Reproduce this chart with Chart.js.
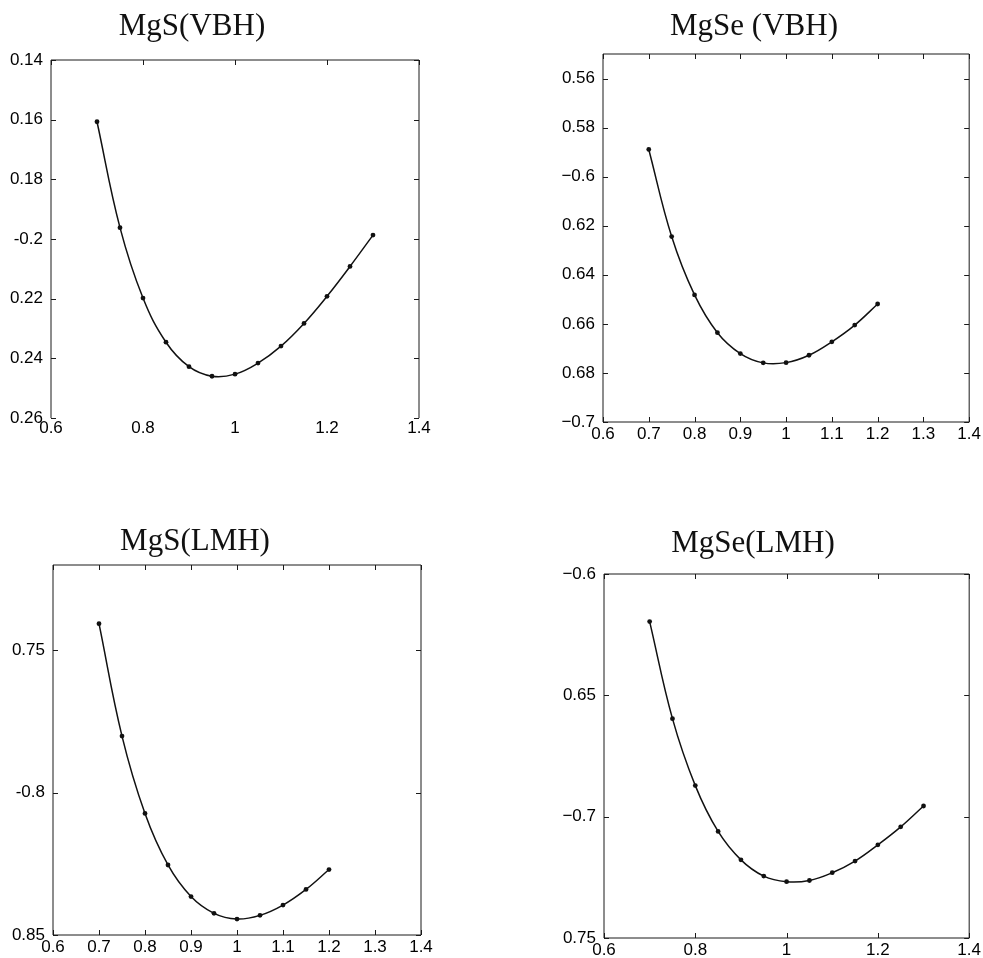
<!DOCTYPE html>
<html>
<head>
<meta charset="utf-8">
<script src="https://cdn.jsdelivr.net/npm/chart.js@4.4.1/dist/chart.umd.min.js"></script>
<style>
  html, body { margin: 0; padding: 0; background: #fff; overflow: hidden; }
  #wrap { position: relative; width: 983px; height: 958px; }
  #wrap canvas { position: absolute; left: 0; top: 0; }
</style>
</head>
<body>
<div id="wrap">
  <canvas id="mgsVbhChart" width="983" height="958"></canvas>
  <canvas id="mgseVbhChart" width="983" height="958"></canvas>
  <canvas id="mgsLmhChart" width="983" height="958"></canvas>
  <canvas id="mgseLmhChart" width="983" height="958"></canvas>
</div>
<script>
// x values (lattice ratio)
const xLong = [0.7, 0.75, 0.8, 0.85, 0.9, 0.95, 1.0, 1.05, 1.1, 1.15, 1.2, 1.25, 1.3];
const xShort = [0.7, 0.75, 0.8, 0.85, 0.9, 0.95, 1.0, 1.05, 1.1, 1.15, 1.2];

// energy values
const mgsVbh = [-0.1607, -0.1962, -0.2198, -0.2346, -0.2428, -0.2460, -0.2453, -0.2416, -0.2359, -0.2283, -0.2192, -0.2092, -0.1987];
const mgseVbh = [-0.5889, -0.6244, -0.6482, -0.6636, -0.6721, -0.6759, -0.6758, -0.6728, -0.6673, -0.6605, -0.6519];
const mgsLmh = [-0.7406, -0.7801, -0.8073, -0.8254, -0.8365, -0.8424, -0.8444, -0.8431, -0.8395, -0.8340, -0.8270];
const mgseLmh = [-0.6196, -0.6596, -0.6872, -0.7061, -0.7178, -0.7245, -0.7268, -0.7263, -0.7231, -0.7183, -0.7116, -0.7042, -0.6956];

// tick values and labels (as printed, minus signs partly lost in the scan)
const xTicksWide = [0.6, 0.8, 1.0, 1.2, 1.4];
const xLabelsWide = ['0.6', '0.8', '1', '1.2', '1.4'];
const xTicksFine = [0.6, 0.7, 0.8, 0.9, 1.0, 1.1, 1.2, 1.3, 1.4];
const xLabelsFine = ['0.6', '0.7', '0.8', '0.9', '1', '1.1', '1.2', '1.3', '1.4'];

const mgsVbhTicks = [-0.26, -0.24, -0.22, -0.2, -0.18, -0.16, -0.14];
const mgsVbhLabels = ['0.26', '0.24', '0.22', '-0.2', '0.18', '0.16', '0.14'];
const mgseVbhTicks = [-0.7, -0.68, -0.66, -0.64, -0.62, -0.6, -0.58, -0.56];
const mgseVbhLabels = ['\u22120.7', '0.68', '0.66', '0.64', '0.62', '\u22120.6', '0.58', '0.56'];
const mgsLmhTicks = [-0.85, -0.8, -0.75];
const mgsLmhLabels = ['0.85', '-0.8', '0.75'];
const mgseLmhTicks = [-0.75, -0.7, -0.65, -0.6];
const mgseLmhLabels = ['0.75', '\u22120.7', '0.65', '\u22120.6'];

// cornice, tacche interne e titolo
const framePlugin = {
  id: 'frame',
  afterDraw(chart, args, opts) {
    const { ctx, chartArea: a, scales } = chart;
    ctx.save();
    ctx.strokeStyle = '#1a1a1a';
    ctx.lineWidth = 1;
    ctx.beginPath();
    ctx.moveTo(a.left, a.bottom);
    ctx.lineTo(a.left, a.top);
    ctx.lineTo(a.right, a.top);
    ctx.lineTo(a.right, a.bottom);
    if (opts.bottom !== false) ctx.lineTo(a.left, a.bottom);
    ctx.stroke();

    ctx.beginPath();
    scales.x.ticks.forEach(t => {
      const px = Math.round(scales.x.getPixelForValue(t.value)) + 0.5;
      ctx.moveTo(px, a.top); ctx.lineTo(px, a.top + 5);
      if (opts.bottom !== false) { ctx.moveTo(px, a.bottom); ctx.lineTo(px, a.bottom - 5); }
    });
    scales.y.ticks.forEach(t => {
      const py = Math.round(scales.y.getPixelForValue(t.value)) + 0.5;
      ctx.moveTo(a.left, py); ctx.lineTo(a.left + 5, py);
      ctx.moveTo(a.right, py); ctx.lineTo(a.right - 5, py);
    });
    ctx.stroke();

    ctx.fillStyle = '#111';
    ctx.font = '31px "Liberation Serif", "Times New Roman", serif';
    ctx.textAlign = 'center';
    ctx.textBaseline = 'alphabetic';
    ctx.fillText(opts.title, opts.titleX, opts.titleY);
    ctx.restore();
  }
};

function makePanel(id, p) {
  const ctx = document.getElementById(id).getContext('2d');
  return new Chart(ctx, {
    type: 'scatter',
    data: {
      datasets: [{
        data: p.xs.map((x, i) => ({ x: x, y: p.ys[i] })),
        showLine: true,
        tension: 0.4,
        borderColor: '#111',
        borderWidth: 1.5,
        pointRadius: 2.4,
        pointBackgroundColor: '#111',
        pointBorderColor: '#111',
        pointBorderWidth: 0
      }]
    },
    options: {
      responsive: false,
      animation: false,
      events: [],
      layout: {
        padding: {
          left: p.box.l - 50,
          top: p.box.t,
          right: 983 - p.box.r,
          bottom: 958 - p.box.b - 20
        }
      },
      plugins: {
        legend: { display: false },
        tooltip: { enabled: false },
        frame: { title: p.title, titleX: p.titleX, titleY: p.titleY, bottom: p.bottomLine }
      },
      scales: {
        x: {
          type: 'linear',
          min: 0.6,
          max: 1.4,
          grid: { display: false, drawTicks: false },
          border: { display: false },
          afterBuildTicks: s => { s.ticks = p.xTicks.map(v => ({ value: v })); },
          afterFit: s => { s.height = 20; },
          ticks: {
            padding: p.xPad,
            color: '#000',
            font: { family: '"Liberation Sans", Arial, sans-serif', size: 17 },
            maxRotation: 0,
            autoSkip: false,
            callback: (v, i) => p.xLabels[i]
          }
        },
        y: {
          type: 'linear',
          min: p.yMin,
          max: p.yMax,
          grid: { display: false, drawTicks: false },
          border: { display: false },
          afterBuildTicks: s => { s.ticks = p.yTicks.map(v => ({ value: v })); },
          afterFit: s => { s.width = 50; },
          ticks: {
            padding: 8,
            color: '#000',
            font: { family: '"Liberation Sans", Arial, sans-serif', size: 17 },
            autoSkip: false,
            callback: (v, i) => p.yLabels[i]
          }
        }
      }
    },
    plugins: [framePlugin]
  });
}

makePanel('mgsVbhChart', {
  xs: xLong, ys: mgsVbh,
  box: { l: 51, t: 60, r: 419, b: 418 },
  yMin: -0.26, yMax: -0.14,
  xTicks: xTicksWide, xLabels: xLabelsWide, xPad: 0,
  yTicks: mgsVbhTicks, yLabels: mgsVbhLabels,
  title: 'MgS(VBH)', titleX: 192, titleY: 35, bottomLine: false
});

makePanel('mgseVbhChart', {
  xs: xShort, ys: mgseVbh,
  box: { l: 603, t: 54, r: 970, b: 422 },
  yMin: -0.7, yMax: -0.55,
  xTicks: xTicksFine, xLabels: xLabelsFine, xPad: 2,
  yTicks: mgseVbhTicks, yLabels: mgseVbhLabels,
  title: 'MgSe (VBH)', titleX: 754, titleY: 35
});

makePanel('mgsLmhChart', {
  xs: xShort, ys: mgsLmh,
  box: { l: 53, t: 565, r: 421, b: 935 },
  yMin: -0.85, yMax: -0.72,
  xTicks: xTicksFine, xLabels: xLabelsFine, xPad: 2,
  yTicks: mgsLmhTicks, yLabels: mgsLmhLabels,
  title: 'MgS(LMH)', titleX: 195, titleY: 550
});

makePanel('mgseLmhChart', {
  xs: xLong, ys: mgseLmh,
  box: { l: 604, t: 574, r: 971, b: 938 },
  yMin: -0.75, yMax: -0.6,
  xTicks: xTicksWide, xLabels: xLabelsWide, xPad: 2,
  yTicks: mgseLmhTicks, yLabels: mgseLmhLabels,
  title: 'MgSe(LMH)', titleX: 753, titleY: 552
});
</script>
</body>
</html>
